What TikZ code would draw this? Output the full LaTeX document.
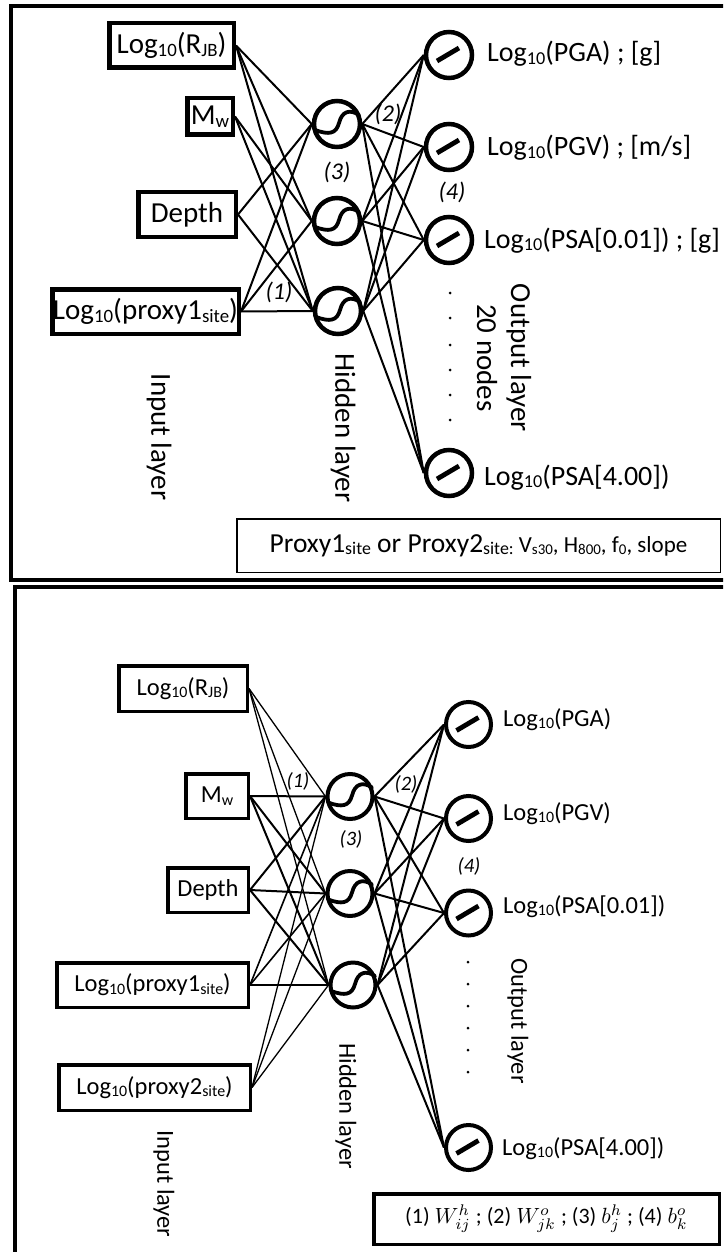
\documentclass[tikz,border=0pt]{standalone}
\usepackage{fontspec}
\setmainfont{Carlito}
\usepackage{graphicx}
\usetikzlibrary{calc}
\newcommand{\dn}[1]{\raisebox{-0.2ex}{\scalebox{0.65}{#1}}}
\newcommand{\szTop}{\fontsize{29}{34}\selectfont}
\newcommand{\szOut}{\fontsize{28}{33}\selectfont}
\newcommand{\szBot}{\fontsize{24.5}{29}\selectfont}
\newcommand{\szLabA}{\fontsize{24}{28}\selectfont\itshape}
\newcommand{\szLabB}{\fontsize{20.5}{24}\selectfont\itshape}
\begin{document}
\begin{tikzpicture}[x=1pt,y=-1pt,
  inboxA/.style={draw, line width=4.5pt, inner sep=0pt, font=\szTop},
  inboxB/.style={draw, line width=3.5pt, inner sep=0pt, font=\szBot},
  hnodeA/.style={circle, draw, line width=4.5pt, minimum size=46pt, inner sep=0pt},
  hnodeB/.style={circle, draw, line width=4pt, minimum size=45pt, inner sep=0pt},
  connA/.style={line width=2pt},
  connB/.style={line width=2pt},
  connThin/.style={line width=1.3pt},
  olabA/.style={anchor=base west, inner sep=0pt, font=\szOut},
  olabB/.style={anchor=base west, inner sep=0pt, font=\szBot},
  vlabA/.style={rotate=-90, inner sep=0pt, font=\szTop, align=center},
  vlabB/.style={rotate=-90, inner sep=0pt, font=\szBot, align=center},
  sigm/.pic={\draw[line width=3.8pt, line cap=round] (-22,6) .. controls (-8,11) and (-1,10) .. (2,-1) .. controls (5,-13) and (13,-15) .. (22,-9);},
  linr/.pic={\draw[line width=4.8pt] (-12,6) -- (10,-7);},
  dotm/.style={circle, fill=black, inner sep=0pt, minimum size=3pt}
]
\clip (0,0) rectangle (723,1252);
\fill[white] (0,0) rectangle (723,1252);

% ---------------- top panel ----------------
\draw[line width=4.5pt] (760,6) -- (11,6) -- (11,580) -- (760,580);

\node[inboxA, minimum width=124.5pt, minimum height=44.5pt] (ra) at (171.5,45.5) {Log\dn{10}(R\dn{JB})};
\node[inboxA, minimum width=45.5pt, minimum height=36.5pt] (ma) at (210,116.5) {M\dn{w}};
\node[inboxA, minimum width=97.5pt, minimum height=44.5pt] (da) at (187,214.5) {Depth};
\node[inboxA, minimum width=186.5pt, minimum height=44.5pt] (pa) at (145.5,311.5) {Log\dn{10}(proxy1\dn{site})};

\node[hnodeA] (ha1) at (337,124) {};
\node[hnodeA] (ha2) at (337,221) {};
\node[hnodeA] (ha3) at (338,311) {};
\node[hnodeA] (oa1) at (449,55) {};
\node[hnodeA] (oa2) at (449,147) {};
\node[hnodeA] (oa3) at (449,240) {};
\node[hnodeA] (oa4) at (449,473) {};

\foreach \h in {ha1,ha2,ha3} \pic at (\h.center) {sigm};
\foreach \o in {oa1,oa2,oa3,oa4} \pic at (\o.center) {linr};

\draw[connA] (ra.east) -- (ha1.west);
\draw[connA] (ra.east) -- (ha2.west);
\draw[connA] (ra.east) -- (ha3.west);
\draw[connA] (ma.east) -- (ha2.west);
\draw[connA] (ma.east) -- (ha3.west);
\draw[connA] (da.east) -- (ha1.west);
\draw[connA] (da.east) -- (ha3.west);
\draw[connA] (pa.east) -- (ha1.west);
\draw[connA] (pa.east) -- (ha2.west);
\draw[connA] (pa.east) -- (ha3.west);
\foreach \h in {ha1,ha2,ha3}
  \foreach \o in {oa1,oa2,oa3,oa4}
    \draw[connA] (\h.east) -- (\o.west);

\node[olabA] (la1) at (487,62) {Log\dn{10}(PGA) ; [g]};
\node[olabA] (la2) at (487,156) {Log\dn{10}(PGV) ; [m/s]};
\node[olabA] (la3) at (484,248) {Log\dn{10}(PSA[0.01]) ; [g]};
\node[olabA] (la4) at (484,485) {Log\dn{10}(PSA[4.00])};

\foreach \yy [count=\k] in {293,318,345,370,395,420}
  \node[dotm] (dta\k) at (450,\yy) {};

\node[font=\szLabA] (w1a) at (279,292) {(1)};
\node[font=\szLabA] (w2a) at (388,114) {(2)};
\node[font=\szLabA] (w3a) at (337,172) {(3)};
\node[font=\szLabA] (w4a) at (452,192) {(4)};

\node[vlabA] (inla) at (159,437) {Input layer};
\node[vlabA] (hila) at (343,428) {Hidden layer};
\node[vlabA] (oula) at (504,358) {Output layer\\20 nodes};

\node[draw, line width=1.5pt, minimum width=483.5pt, minimum height=53.5pt, inner sep=0pt]
  (proxbox) at (478.5,545.5)
  {\fontsize{27.5}{32}\selectfont Proxy1\dn{site} or Proxy2\dn{site:}\fontsize{23}{28}\selectfont{} V\dn{s30}, H\dn{800}, f\dn{0}, slope};

% ---------------- bottom panel ----------------
\draw[line width=4.5pt] (760,587) -- (15,587) -- (15,1280);

\node[inboxB, minimum width=128.5pt, minimum height=45.5pt] (rb) at (183,688.5) {Log\dn{10}(R\dn{JB})};
\node[inboxB, minimum width=62.5pt, minimum height=44.5pt] (mb) at (217,796) {M\dn{w}};
\node[inboxB, minimum width=80.5pt, minimum height=44.5pt] (db) at (208,890) {Depth};
\node[inboxB, minimum width=191.5pt, minimum height=44.5pt] (pb1) at (152.5,985) {Log\dn{10}(proxy1\dn{site})};
\node[inboxB, minimum width=191.5pt, minimum height=45.5pt] (pb2) at (154.5,1087.5) {Log\dn{10}(proxy2\dn{site})};

\node[hnodeB] (hb1) at (350,796.5) {};
\node[hnodeB] (hb2) at (350,893.5) {};
\node[hnodeB] (hb3) at (353,985) {};
\node[hnodeB] (ob1) at (468.5,724.5) {};
\node[hnodeB] (ob2) at (468.5,818.5) {};
\node[hnodeB] (ob3) at (468.5,913) {};
\node[hnodeB] (ob4) at (468.5,1147.5) {};

\foreach \h in {hb1,hb2,hb3} \pic at (\h.center) {sigm};
\foreach \o in {ob1,ob2,ob3,ob4} \pic at (\o.center) {linr};

\foreach \h in {hb1,hb2,hb3} {
  \draw[connThin] (rb.east) -- (\h.west);
  \draw[connB] (mb.east) -- (\h.west);
  \draw[connB] (db.east) -- (\h.west);
  \draw[line width=1.6pt] (pb1.east) -- (\h.west);
  \draw[connThin] (pb2.east) -- (\h.west);
}
\foreach \h in {hb1,hb2,hb3}
  \foreach \o in {ob1,ob2,ob3,ob4}
    \draw[connB] (\h.east) -- (\o.west);

\node[olabB] (lb1) at (503,726) {Log\dn{10}(PGA)};
\node[olabB] (lb2) at (503,820) {Log\dn{10}(PGV)};
\node[olabB] (lb3) at (503,913) {Log\dn{10}(PSA[0.01])};
\node[olabB] (lb4) at (502,1155) {Log\dn{10}(PSA[4.00])};

\foreach \yy [count=\k] in {962,984,1006,1028,1050,1072}
  \node[dotm] (dtb\k) at (468,\yy) {};

\node[font=\szLabB] (w1b) at (298,781) {(1)};
\node[font=\szLabB] (w2b) at (406,784) {(2)};
\node[font=\szLabB] (w3b) at (351,839) {(3)};
\node[font=\szLabB] (w4b) at (469,866) {(4)};

\node[vlabB] (inlb) at (164,1184) {Input layer};
\node[vlabB] (hilb) at (346,1106) {Hidden layer};
\node[vlabB] (oulb) at (518,1021) {Output layer};

\node[draw, line width=3.5pt, minimum width=345.5pt, minimum height=50.5pt, inner sep=0pt]
  (legb) at (546.5,1219)
  {\scalebox{2.2}{\fontsize{10}{12}\selectfont (1) $W_{ij}^{h}$ ; (2) $W_{jk}^{o}$ ; (3) $b_{j}^{h}$ ; (4) $b_{k}^{o}$}};
\end{tikzpicture}
\end{document}
